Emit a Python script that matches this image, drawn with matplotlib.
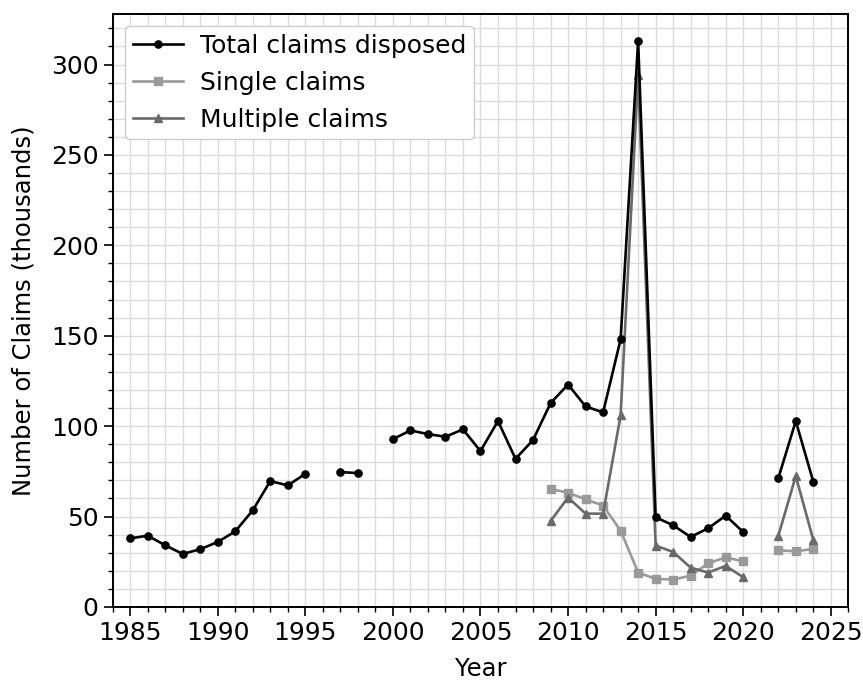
import numpy as np
import matplotlib
matplotlib.use('Agg')
import matplotlib.pyplot as plt
from matplotlib.ticker import MultipleLocator

# claims disposed per year, in thousands (nan = no figure for that year)
years = np.arange(1985, 2025)

total_claims = [
    37.9, 39.4, 34.1, 29.3, 31.9, 35.9, 41.8, 53.4, 69.6, 67.2,
    73.6, np.nan, 74.6, 74.0, np.nan, 92.8, 97.6, 95.6, 94.1, 98.2,
    86.2, 102.8, 81.9, 92.3, 112.7, 123.0, 110.9, 107.6, 148.0, 313.0,
    49.6, 45.1, 38.7, 43.5, 50.5, 41.4, np.nan, 71.1, 102.8, 69.2,
]

split_years = np.arange(2009, 2025)

single_claims = [
    65.2, 63.2, 59.5, 56.0, 42.2, 19.0, 15.5, 15.1,
    17.3, 24.1, 27.4, 25.2, np.nan, 31.3, 30.8, 32.0,
]

multiple_claims = [
    47.5, 60.5, 51.6, 51.6, 105.9, 294.0, 33.9, 30.4,
    21.7, 19.0, 22.7, 16.4, np.nan, 39.2, 72.4, 37.0,
]

plt.rcParams['font.family'] = ['DejaVu Sans']

fig = plt.figure(figsize=(8.63, 6.8), dpi=100)
ax = fig.add_axes([0.1305, 0.1075, 0.8525, 0.872])

ax.plot(years, total_claims, color='black', marker='o', markersize=5.2,
        linewidth=1.9, label='Total claims disposed', zorder=4)
ax.plot(split_years, single_claims, color='#9a9a9a', marker='s',
        markersize=5.2, linewidth=1.9, label='Single claims', zorder=3)
ax.plot(split_years, multiple_claims, color='#6a6a6a', marker='^',
        markersize=5.2, linewidth=1.9, label='Multiple claims', zorder=3)

ax.set_xlim(1984, 2026)
ax.set_ylim(0, 328)

ax.xaxis.set_major_locator(MultipleLocator(5))
ax.xaxis.set_minor_locator(MultipleLocator(1))
ax.yaxis.set_major_locator(MultipleLocator(50))
ax.yaxis.set_minor_locator(MultipleLocator(10))

ax.grid(which='both', color='#dcdcdc', linewidth=1.0)
ax.set_axisbelow(True)

ax.tick_params(which='major', labelsize=18, length=6.5, width=1.2)
ax.tick_params(which='minor', length=3.5, width=1.0)
for spine in ax.spines.values():
    spine.set_linewidth(1.4)

ax.set_xlabel('Year', fontsize=17.5, labelpad=9)
ax.set_ylabel('Number of Claims (thousands)', fontsize=17.5, labelpad=11)

ax.legend(loc='upper left', fontsize=18, framealpha=1.0,
          edgecolor='#cccccc', handlelength=2.0, borderpad=0.3,
          labelspacing=0.52, handletextpad=0.7)

fig.savefig('out.png', dpi=100)
